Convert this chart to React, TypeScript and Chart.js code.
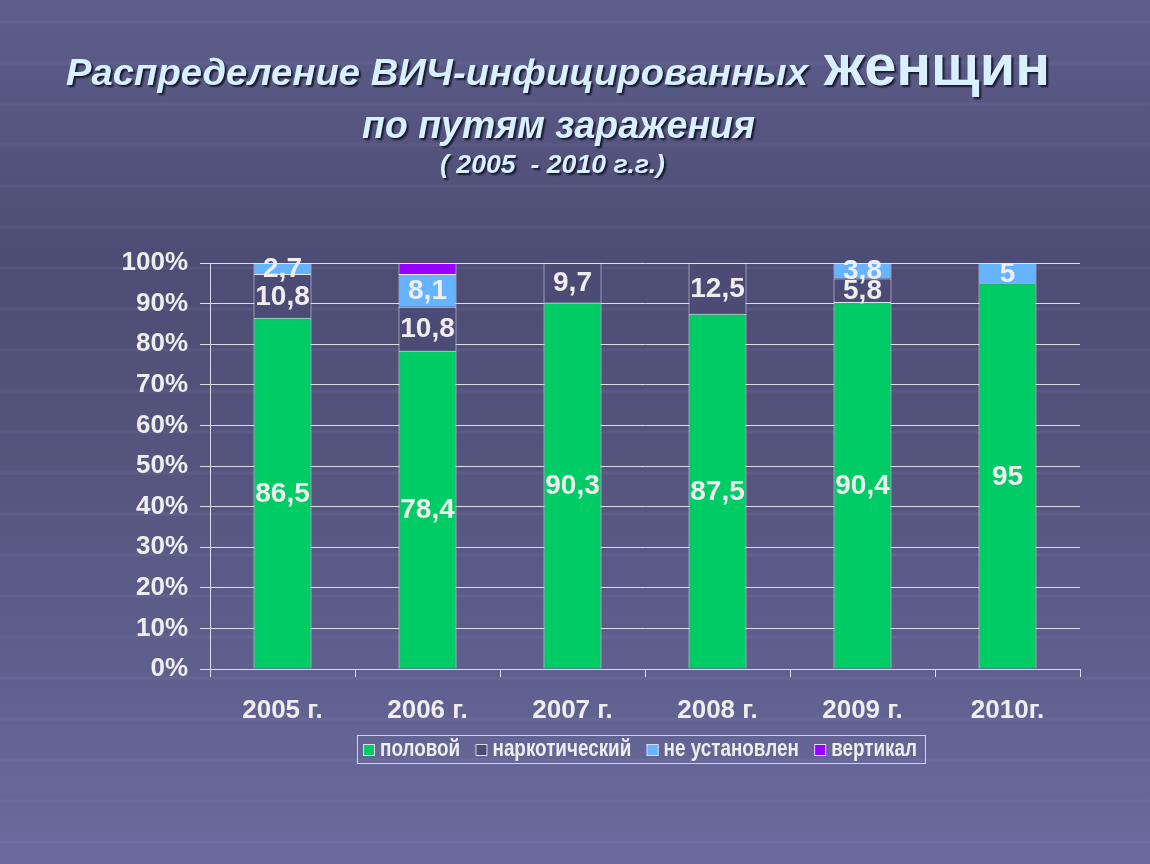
import React, { useEffect, useRef } from "react";
import { Chart, registerables } from "chart.js";

Chart.register(...registerables);

const categories = ["2005 г.", "2006 г.", "2007 г.", "2008 г.", "2009 г.", "2010г."];
const sexualValues = [86.5, 78.4, 90.3, 87.5, 90.4, 95];
const drugValues = [10.8, 10.8, 9.7, 12.5, 5.8, 0];
const unknownValues = [2.7, 8.1, 0, 0, 3.8, 5];
const verticalValues = [0, 2.7, 0, 0, 0, 0];
const seriesNames = ["половой", "наркотический", "не установлен", "вертикал"];
const yTickValues = [0, 10, 20, 30, 40, 50, 60, 70, 80, 90, 100];

const titleLine1a = "Распределение ВИЧ-инфицированных";
const titleLine1b = "женщин";
const titleLine2 = "по путям заражения";
const titleLine3 = "( 2005  - 2010 г.г.)";

const FONT = '"Liberation Sans", Arial, sans-serif';
const COLORS = ["#00cc66", "#4b4b75", "#66b3ff", "#9900ff"];
const LABEL_COLOR = "#eeeeee";
const LINE_COLOR = "#dcdce8";
const TITLE_COLOR = "#d8f0ff";

function drawFitted(ctx: CanvasRenderingContext2D, text: string, font: string, x: number, y: number, width: number) {
  ctx.save();
  ctx.font = font;
  const w = ctx.measureText(text).width;
  ctx.translate(x, y);
  ctx.scale(width / w, 1);
  ctx.fillText(text, 0, 0);
  ctx.restore();
}

const slidePlugin = {
  id: "slide",
  beforeDraw(chart: any) {
    const ctx: CanvasRenderingContext2D = chart.ctx;
    const W = chart.width;
    const H = chart.height;
    ctx.save();
    const g = ctx.createLinearGradient(0, 0, 0, H);
    g.addColorStop(0, "#5e5e8c");
    g.addColorStop(0.3, "#4c4c74");
    g.addColorStop(0.55, "#55557f");
    g.addColorStop(1, "#6a6a9e");
    ctx.fillStyle = g;
    ctx.fillRect(0, 0, W, H);
    // faint horizontal streaks of the slide background
    ctx.strokeStyle = "rgba(150,150,200,0.12)";
    ctx.lineWidth = 3;
    for (let y = 22; y < H; y += 41) {
      ctx.beginPath();
      ctx.moveTo(0, y);
      ctx.lineTo(W, y);
      ctx.stroke();
    }
    // titles
    ctx.textBaseline = "alphabetic";
    ctx.textAlign = "left";
    ctx.fillStyle = TITLE_COLOR;
    ctx.shadowColor = "rgba(10,10,30,0.85)";
    ctx.shadowOffsetX = 2;
    ctx.shadowOffsetY = 2;
    ctx.shadowBlur = 2;
    drawFitted(ctx, titleLine1a, `italic bold 36px ${FONT}`, 66, 85, 742);
    drawFitted(ctx, titleLine1b, `bold 58px ${FONT}`, 824, 85, 226);
    drawFitted(ctx, titleLine2, `italic bold 38px ${FONT}`, 362, 138, 393);
    drawFitted(ctx, titleLine3, `italic bold 25px ${FONT}`, 440, 173, 225);
    ctx.restore();
  },
  afterDatasetsDraw(chart: any) {
    const ctx: CanvasRenderingContext2D = chart.ctx;
    ctx.save();
    ctx.font = `bold 28px ${FONT}`;
    ctx.fillStyle = LABEL_COLOR;
    ctx.textAlign = "center";
    ctx.textBaseline = "middle";
    chart.data.datasets.forEach((ds: any, di: number) => {
      if (ds.noLabels) return;
      const meta = chart.getDatasetMeta(di);
      meta.data.forEach((bar: any, i: number) => {
        const v = ds.data[i];
        if (!v) return;
        const cy = (bar.y + bar.base) / 2;
        ctx.fillText(String(v).replace(".", ","), bar.x, cy + 1);
      });
    });
    ctx.restore();
  },
  afterDraw(chart: any) {
    const ctx: CanvasRenderingContext2D = chart.ctx;
    ctx.save();
    const bx = 357, by = 735, bw = 568, bh = 28;
    ctx.strokeStyle = "#d4d4e4";
    ctx.lineWidth = 1;
    ctx.strokeRect(bx + 0.5, by + 0.5, bw, bh);
    ctx.font = `bold 23px ${FONT}`;
    ctx.textBaseline = "middle";
    ctx.textAlign = "left";
    const sx = 0.82;
    const marker = 12, gap = 5;
    const widths = seriesNames.map((n) => ctx.measureText(n).width * sx);
    const itemsW = widths.reduce((a, w) => a + w + marker + gap, 0);
    const padL = 6, padR = 8;
    const itemGap = (bw - padL - padR - itemsW) / (seriesNames.length - 1);
    let x = bx + padL;
    const cy = by + bh / 2 + 1;
    seriesNames.forEach((n, i) => {
      ctx.fillStyle = COLORS[i];
      ctx.fillRect(x, cy - marker / 2, marker, marker);
      ctx.strokeStyle = "#dcdce8";
      ctx.strokeRect(x + 0.5, cy - marker / 2 + 0.5, marker - 1, marker - 1);
      ctx.fillStyle = LABEL_COLOR;
      ctx.save();
      ctx.translate(x + marker + gap, cy);
      ctx.scale(sx, 1);
      ctx.fillText(n, 0, 0);
      ctx.restore();
      x += marker + gap + widths[i] + itemGap;
    });
    ctx.restore();
  },
};

export default function App() {
  const canvasRef = useRef<HTMLCanvasElement | null>(null);

  useEffect(() => {
    const canvas = canvasRef.current;
    if (!canvas) return;
    const mk = (label: string, data: number[], color: string, noLabels = false) => ({
      label,
      data,
      backgroundColor: color,
      borderColor: "#e6e6f0",
      borderWidth: 1,
      barPercentage: 0.4,
      categoryPercentage: 1,
      noLabels,
    });
    const chart = new Chart(canvas, {
      type: "bar",
      data: {
        labels: categories,
        datasets: [
          mk(seriesNames[0], sexualValues, COLORS[0]),
          mk(seriesNames[1], drugValues, COLORS[1]),
          mk(seriesNames[2], unknownValues, COLORS[2]),
          mk(seriesNames[3], verticalValues, COLORS[3], true),
        ] as any,
      },
      options: {
        responsive: false,
        animation: false,
        devicePixelRatio: 1,
        layout: { padding: { left: 0, right: 70, top: 263, bottom: 135 } },
        plugins: {
          legend: { display: false },
          tooltip: { enabled: false },
          title: { display: false },
        },
        scales: {
          x: {
            stacked: true,
            grid: { drawOnChartArea: false, color: LINE_COLOR, tickLength: 8, offset: true },
            border: { color: LINE_COLOR, width: 1 },
            ticks: { color: LABEL_COLOR, font: { family: FONT, size: 26, weight: "bold" }, padding: 18 },
            afterFit: (s: any) => {
              s.height = 60;
            },
          },
          y: {
            stacked: true,
            min: 0,
            max: 100,
            afterBuildTicks: (s: any) => {
              s.ticks = yTickValues.map((v) => ({ value: v }));
            },
            ticks: {
              color: LABEL_COLOR,
              font: { family: FONT, size: 26, weight: "bold" },
              padding: 12,
              callback: (v: any) => v + "%",
            },
            grid: { color: LINE_COLOR, tickLength: 10 },
            border: { color: LINE_COLOR, width: 1 },
            afterFit: (s: any) => {
              s.width = 210;
            },
          },
        },
      } as any,
      plugins: [slidePlugin],
    });
    return () => chart.destroy();
  }, []);

  return (
    <div style={{ position: "fixed", left: 0, top: 0, width: 1150, height: 864 }}>
      <canvas ref={canvasRef} width={1150} height={864} style={{ display: "block" }} />
    </div>
  );
}
